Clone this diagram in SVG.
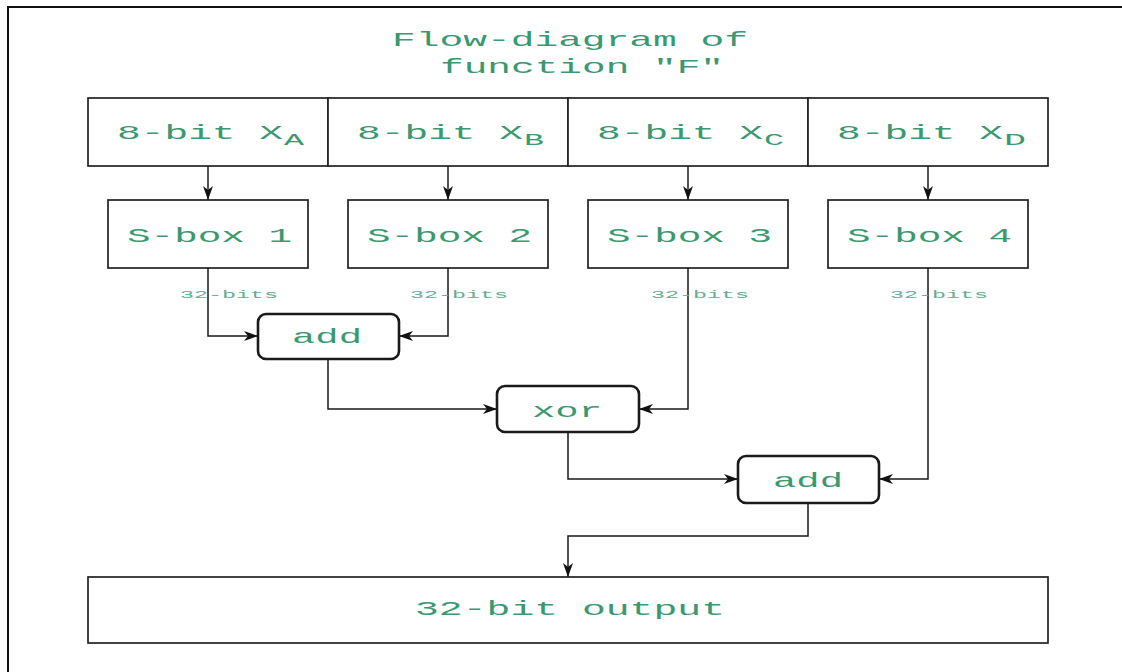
<svg xmlns="http://www.w3.org/2000/svg" width="1122" height="672" viewBox="0 0 1122 672">
  <style>
    .box { fill: #ffffff; stroke: #222222; stroke-width: 1.7; }
    .op { fill: #ffffff; stroke: #1a1a1a; stroke-width: 2.6; }
    .lbl { font-family: "Liberation Mono", "DejaVu Sans Mono", monospace; font-size: 21px; fill: #3a9970; }
    .sub { font-family: "Liberation Mono", "DejaVu Sans Mono", monospace; font-size: 16px; fill: #3a9970; }
    .bits { font-family: "Liberation Mono", "DejaVu Sans Mono", monospace; font-size: 11px; fill: #62b08f; }
    .wire { fill: none; stroke: #1a1a1a; stroke-width: 1.5; }
  </style>
  <defs>
    <marker id="arrow" markerUnits="userSpaceOnUse" markerWidth="15" markerHeight="12" viewBox="0 0 15 12" refX="14" refY="6" orient="auto">
      <path d="M0,1 L14,6 L0,11 L4,6 Z" fill="#111111"/>
    </marker>
  </defs>

  <rect x="0" y="0" width="1122" height="672" fill="#ffffff"/>
  <!-- page frame -->
  <path d="M8,672 V7 H1122" fill="none" stroke="#111111" stroke-width="2"/>

  <!-- title -->
  <g id="title">
    <text class="lbl" x="392" y="46" textLength="356" lengthAdjust="spacingAndGlyphs">Flow-diagram of</text>
    <text class="lbl" x="440" y="73" textLength="284" lengthAdjust="spacingAndGlyphs">function "F"</text>
  </g>

  <!-- 8-bit inputs -->
  <g id="xa">
    <rect class="box" x="88" y="98" width="240" height="68"/>
    <text class="lbl" x="117" y="139" textLength="166" lengthAdjust="spacingAndGlyphs">8-bit X</text>
    <text class="sub" x="284" y="145" textLength="20" lengthAdjust="spacingAndGlyphs">A</text>
  </g>
  <g id="xb">
    <rect class="box" x="328" y="98" width="240" height="68"/>
    <text class="lbl" x="357" y="139" textLength="166" lengthAdjust="spacingAndGlyphs">8-bit X</text>
    <text class="sub" x="524" y="145" textLength="20" lengthAdjust="spacingAndGlyphs">B</text>
  </g>
  <g id="xc">
    <rect class="box" x="568" y="98" width="240" height="68"/>
    <text class="lbl" x="597" y="139" textLength="166" lengthAdjust="spacingAndGlyphs">8-bit X</text>
    <text class="sub" x="764" y="145" textLength="20" lengthAdjust="spacingAndGlyphs">C</text>
  </g>
  <g id="xd">
    <rect class="box" x="808" y="98" width="240" height="68"/>
    <text class="lbl" x="837" y="139" textLength="166" lengthAdjust="spacingAndGlyphs">8-bit X</text>
    <text class="sub" x="1004" y="145" textLength="22" lengthAdjust="spacingAndGlyphs">D</text>
  </g>

  <!-- S-boxes -->
  <g id="sbox1">
    <rect class="box" x="108" y="200" width="200" height="68"/>
    <text class="lbl" x="127" y="242" textLength="165" lengthAdjust="spacingAndGlyphs">S-box 1</text>
  </g>
  <g id="sbox2">
    <rect class="box" x="348" y="200" width="200" height="68"/>
    <text class="lbl" x="367" y="242" textLength="165" lengthAdjust="spacingAndGlyphs">S-box 2</text>
  </g>
  <g id="sbox3">
    <rect class="box" x="588" y="200" width="200" height="68"/>
    <text class="lbl" x="607" y="242" textLength="165" lengthAdjust="spacingAndGlyphs">S-box 3</text>
  </g>
  <g id="sbox4">
    <rect class="box" x="828" y="200" width="200" height="68"/>
    <text class="lbl" x="847" y="242" textLength="165" lengthAdjust="spacingAndGlyphs">S-box 4</text>
  </g>

  <!-- connectors -->
  <g id="connectors">
    <path class="wire" d="M208,166 V200" marker-end="url(#arrow)"/>
    <path class="wire" d="M448,166 V200" marker-end="url(#arrow)"/>
    <path class="wire" d="M688,166 V200" marker-end="url(#arrow)"/>
    <path class="wire" d="M928,166 V200" marker-end="url(#arrow)"/>
    <path class="wire" d="M208,268 V336 H258" marker-end="url(#arrow)"/>
    <path class="wire" d="M448,268 V336 H399" marker-end="url(#arrow)"/>
    <path class="wire" d="M328,359 V409 H497" marker-end="url(#arrow)"/>
    <path class="wire" d="M688,268 V409 H639" marker-end="url(#arrow)"/>
    <path class="wire" d="M568,432 V479 H738" marker-end="url(#arrow)"/>
    <path class="wire" d="M928,268 V479 H879" marker-end="url(#arrow)"/>
    <path class="wire" d="M808,503 V536 H568 V577" marker-end="url(#arrow)"/>
    <text class="bits" x="180" y="298" textLength="98" lengthAdjust="spacingAndGlyphs">32-bits</text>
    <text class="bits" x="410" y="298" textLength="98" lengthAdjust="spacingAndGlyphs">32-bits</text>
    <text class="bits" x="651" y="298" textLength="98" lengthAdjust="spacingAndGlyphs">32-bits</text>
    <text class="bits" x="890" y="298" textLength="98" lengthAdjust="spacingAndGlyphs">32-bits</text>
  </g>

  <!-- operations -->
  <g id="add1">
    <rect class="op" x="258" y="314" width="141" height="45" rx="8"/>
    <text class="lbl" x="292" y="343" textLength="70" lengthAdjust="spacingAndGlyphs">add</text>
  </g>
  <g id="xor">
    <rect class="op" x="497" y="386" width="142" height="46" rx="8"/>
    <text class="lbl" x="532" y="417" textLength="70" lengthAdjust="spacingAndGlyphs">xor</text>
  </g>
  <g id="add2">
    <rect class="op" x="738" y="456" width="141" height="47" rx="8"/>
    <text class="lbl" x="773" y="487" textLength="70" lengthAdjust="spacingAndGlyphs">add</text>
  </g>

  <!-- result -->
  <g id="output">
    <rect class="box" x="88" y="577" width="960" height="66"/>
    <text class="lbl" x="415" y="615" textLength="310" lengthAdjust="spacingAndGlyphs">32-bit output</text>
  </g>
</svg>
